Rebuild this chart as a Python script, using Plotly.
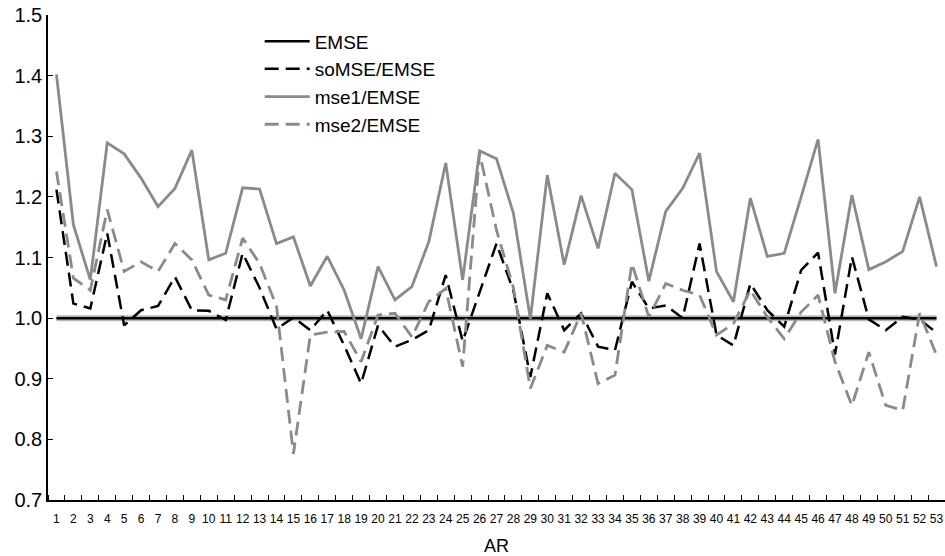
import plotly.graph_objects as go

ar = list(range(1, 54))
tick_labels = [str(i) for i in ar]

emse = [1.0] * 53

so_mse = [1.212, 1.024, 1.016, 1.140, 0.988, 1.013, 1.020, 1.068, 1.013, 1.012,
          0.997, 1.107, 1.050, 0.982, 1.001, 0.980, 1.013, 0.955, 0.892, 0.988,
          0.953, 0.964, 0.980, 1.071, 0.962, 1.043, 1.123, 1.045, 0.903, 1.041,
          0.980, 1.008, 0.953, 0.947, 1.060, 1.016, 1.021, 1.000, 1.123, 0.972,
          0.955, 1.057, 1.013, 0.986, 1.079, 1.108, 0.940, 1.101, 0.998, 0.980,
          1.002, 0.998, 0.976]

mse1 = [1.402, 1.154, 1.063, 1.289, 1.271, 1.231, 1.184, 1.214, 1.277, 1.096,
        1.107, 1.215, 1.213, 1.123, 1.134, 1.053, 1.102, 1.046, 0.966, 1.085,
        1.030, 1.052, 1.126, 1.256, 1.063, 1.276, 1.263, 1.173, 0.999, 1.236,
        1.088, 1.202, 1.115, 1.239, 1.212, 1.061, 1.176, 1.214, 1.272, 1.077,
        1.027, 1.198, 1.102, 1.107, 1.200, 1.295, 1.041, 1.203, 1.080, 1.093,
        1.110, 1.200, 1.085]

mse2 = [1.242, 1.066, 1.046, 1.179, 1.077, 1.093, 1.077, 1.123, 1.096, 1.038,
        1.030, 1.132, 1.090, 1.020, 0.776, 0.972, 0.977, 0.978, 0.928, 1.005,
        1.008, 0.969, 1.027, 1.049, 0.920, 1.272, 1.145, 1.050, 0.884, 0.955,
        0.944, 1.008, 0.892, 0.906, 1.090, 1.002, 1.057, 1.046, 1.038, 0.972,
        0.991, 1.046, 1.002, 0.966, 1.010, 1.038, 0.928, 0.856, 0.944, 0.856,
        0.848, 1.008, 0.939]

FONT = "Liberation Sans, Arial, Helvetica, sans-serif"
GRAY = "#8a8a8a"

fig = go.Figure()
# soft shadow under the EMSE reference line
fig.add_trace(go.Scatter(x=ar, y=emse, mode="lines", showlegend=False, hoverinfo="skip",
                         line=dict(color="#b8b8b8", width=6)))
fig.add_trace(go.Scatter(x=ar, y=emse, mode="lines", name="EMSE",
                         line=dict(color="black", width=2.5)))
fig.add_trace(go.Scatter(x=ar, y=so_mse, mode="lines", name="soMSE/EMSE",
                         line=dict(color="black", width=2.5, dash="14px,7px")))
fig.add_trace(go.Scatter(x=ar, y=mse1, mode="lines", name="mse1/EMSE",
                         line=dict(color=GRAY, width=2.8)))
fig.add_trace(go.Scatter(x=ar, y=mse2, mode="lines", name="mse2/EMSE",
                         line=dict(color=GRAY, width=2.8, dash="14px,7px")))

fig.update_layout(
    width=945, height=556,
    margin=dict(l=48, r=0, t=15, b=56, autoexpand=False),
    paper_bgcolor="white", plot_bgcolor="white",
    font=dict(family=FONT, color="black"),
    showlegend=True,
    legend=dict(x=0.236, y=0.985, xanchor="left", yanchor="top",
                bgcolor="rgba(0,0,0,0)", font=dict(size=19, family=FONT),
                itemwidth=45, tracegroupgap=0),
    xaxis=dict(
        range=[0.5, 53.5], showgrid=False, zeroline=False,
        showline=True, linecolor="black", linewidth=1.5,
        tickmode="array", tickvals=ar, ticktext=tick_labels,
        ticks="", tickfont=dict(size=12, family=FONT), ticklabelstandoff=7,
        minor=dict(tick0=0.5, dtick=1, ticks="inside", ticklen=5,
                   tickcolor="black", tickwidth=1),
        title=dict(text="AR", font=dict(size=18, family=FONT), standoff=19),
        automargin=False,
    ),
    yaxis=dict(
        range=[0.7, 1.5], showgrid=False, zeroline=False,
        showline=True, linecolor="black", linewidth=1.5,
        dtick=0.1, tick0=0.7, tickformat=".1f",
        ticks="inside", ticklen=5, tickcolor="black",
        tickfont=dict(size=20, family=FONT), automargin=False,
    ),
)

fig.write_html("out.html",
               config={"displayModeBar": False},
               post_script="document.body.style.margin='0';document.body.style.padding='0';window.dispatchEvent(new Event('resize'));")
